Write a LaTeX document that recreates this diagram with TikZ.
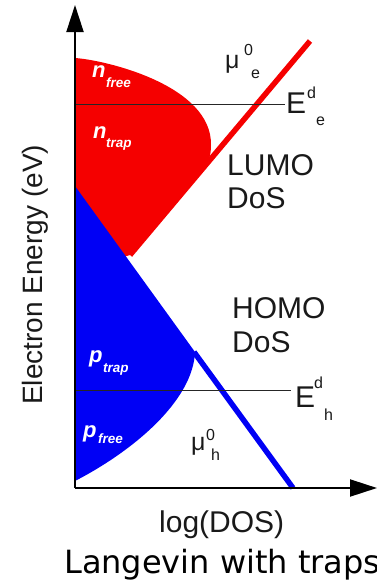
\documentclass[tikz,border=0pt]{standalone}
\usepackage{fontspec}
\setmainfont{Liberation Sans}
\newfontfamily\capfont{DejaVu Sans}
\usetikzlibrary{arrows.meta}
\newcommand{\myfs}[1]{\fontsize{#1}{#1}\selectfont}
\definecolor{dosred}{RGB}{245,0,0}
\definecolor{dosblue}{RGB}{0,0,245}
\definecolor{txt}{RGB}{25,25,25}
\begin{document}
\begin{tikzpicture}[x=1pt,y=-1pt,
  lbl/.style={inner sep=0pt, anchor=base west, text=txt, font=\myfs{30}},
  smlbl/.style={inner sep=0pt, anchor=base west, text=txt, font=\myfs{16}},
  mulbl/.style={inner sep=0pt, anchor=base west, text=txt, font=\myfs{25}},
  wbig/.style={inner sep=0pt, anchor=base west, text=white, font=\myfs{22}\bfseries\itshape},
  wsmall/.style={inner sep=0pt, anchor=base west, text=white, font=\myfs{13.5}\bfseries\itshape},
  edline/.style={draw=black!85, line width=1pt},
  axisline/.style={line width=2pt, -{Triangle[length=27pt,width=17pt]}}
]
\useasboundingbox (0,0) rectangle (377,587);
% filled DoS regions
\fill[dosred] (75,58) .. controls (105,60) and (212,85) .. (211,145)
  .. controls (211,155) and (209,160) .. (206,165) -- (130,255) -- (120,258) -- (75,230) -- cycle;
\fill[dosblue] (75,186) -- (195,352) .. controls (193,400) and (135,450) .. (75,481) -- cycle;
% DoS lines
\coordinate (rl0) at (130,255);
\coordinate (rl1) at (310,41);
\coordinate (bl0) at (194,352);
\coordinate (bl1) at (293,488);
\draw[dosred, line width=5.5pt] (rl0) -- (rl1);
\draw[dosblue, line width=5.5pt] (bl0) -- (bl1);
% demarcation levels
\coordinate (ee0) at (75,104);
\coordinate (ee1) at (285,104);
\coordinate (eh0) at (75,390);
\coordinate (eh1) at (291,390);
\draw[edline] (ee0) -- (ee1);
\draw[edline] (eh0) -- (eh1);
% axes
\coordinate (O) at (75,488);
\coordinate (ytip) at (75,5);
\coordinate (xtip) at (377,488);
\draw[axisline] (O) -- (ytip);
\draw[axisline] (O) -- (xtip);
% labels
\node[lbl] (lumo) at (227,175) {LUMO};
\node[lbl] (lumodos) at (227,208) {DoS};
\node[lbl] (homo) at (232,318) {HOMO};
\node[lbl] (homodos) at (232,352) {DoS};
\node[lbl] (xlab) at (159,532) {log(DOS)};
\node[lbl, font=\myfs{28}, rotate=90] (ylab) at (42,405) {Electron Energy (eV)};
\node[lbl] (Ee) at (286,113) {E};
\node[smlbl] (Eed) at (307,98) {d};
\node[smlbl] (Eee) at (316,125) {e};
\node[lbl] (Eh) at (295,407) {E};
\node[smlbl] (Ehd) at (314,388) {d};
\node[smlbl] (Ehh) at (324,420) {h};
\node[mulbl] (mue) at (225,68) {μ};
\node[smlbl] (mue0) at (244,55) {0};
\node[smlbl] (muee) at (251,78) {e};
\node[mulbl] (muh) at (191,450) {μ};
\node[smlbl] (muh0) at (206,440) {0};
\node[smlbl] (muhh) at (211,460) {h};
\node[wbig] (nf) at (92,77) {n};
\node[wsmall] (nfs) at (106,87) {free};
\node[wbig] (nt) at (93,138) {n};
\node[wsmall] (nts) at (106,147) {trap};
\node[wbig] (pt) at (89,362) {p};
\node[wsmall] (pts) at (103,372) {trap};
\node[wbig] (pf) at (83,437) {p};
\node[wsmall] (pfs) at (98,443) {free};
\node[inner sep=0pt, anchor=base west, text=black, font=\capfont\myfs{32}] (cap) at (64,573) {Langevin with traps};
\end{tikzpicture}
\end{document}
